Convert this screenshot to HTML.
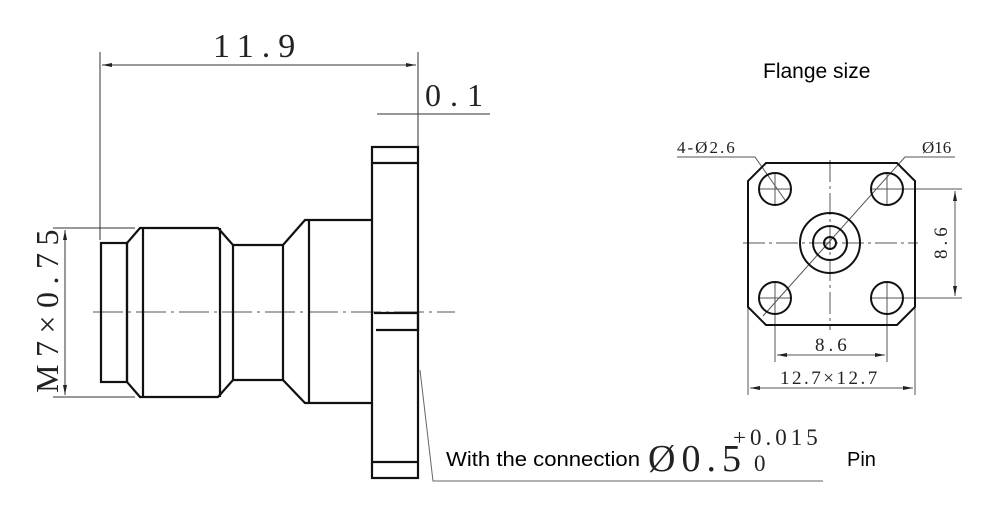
<!DOCTYPE html>
<html><head><meta charset="utf-8"><style>
html,body{margin:0;padding:0;background:#fff;width:1000px;height:506px;overflow:hidden}
svg{display:block}
.s{font-family:"Liberation Serif",serif;fill:#222}
.a{font-family:"Liberation Sans","DejaVu Sans",sans-serif;fill:#000}
</style></head><body>
<svg width="1000" height="506" viewBox="0 0 1000 506" xmlns="http://www.w3.org/2000/svg">
<defs>
<marker id="ar" markerWidth="10" markerHeight="6" refX="10" refY="3" orient="auto-start-reverse" markerUnits="userSpaceOnUse"><path d="M0,1 L10,3 L0,5z" fill="#222"/></marker>
</defs>
<g stroke="#333" stroke-width="1" fill="none">
<line x1="100" y1="52" x2="100" y2="240"/>
<line x1="418" y1="52" x2="418" y2="147"/>
<line x1="102" y1="65" x2="416" y2="65" marker-start="url(#ar)" marker-end="url(#ar)"/>
<line x1="377" y1="114" x2="490" y2="114"/>
<line x1="53" y1="228" x2="135" y2="228"/>
<line x1="53" y1="397" x2="135" y2="397"/>
<line x1="65" y1="230" x2="65" y2="395" marker-start="url(#ar)" marker-end="url(#ar)"/>
<line x1="93" y1="312" x2="455" y2="312" stroke-dasharray="30,5,3,5" stroke="#555"/>
<polyline points="420,370 433,481 823,481" stroke="#666"/>
</g>
<g stroke="#111" stroke-width="2.2" fill="none">
<rect x="101" y="243" width="26" height="139"/>
<path d="M127,243 L140,228 L218,228 L233,245 L233,380 L218,397 L140,397 L127,382 Z"/>
<line x1="143" y1="228" x2="143" y2="397"/>
<line x1="220" y1="228" x2="220" y2="397"/>
<path d="M233,245 L283,245 M233,380 L283,380"/>
<line x1="283" y1="245" x2="283" y2="380"/>
<path d="M283,245 L305,220 L372,220 M283,380 L305,403 L372,403"/>
<line x1="309" y1="220" x2="309" y2="403"/>
<rect x="372" y="147" width="46" height="331"/>
<line x1="372" y1="163" x2="418" y2="163"/>
<line x1="372" y1="462" x2="418" y2="462"/>
<path d="M374,313 L418,313 L418,330 L376,330"/>
</g>
<line x1="418" y1="100" x2="418" y2="125" stroke="#333"/>
<text class="s" x="213" y="57" font-size="34" letter-spacing="8">11.9</text>
<text class="s" x="425" y="106" font-size="32" letter-spacing="9">0.1</text>
<text class="s" font-size="32" letter-spacing="7.5" transform="translate(58,393) rotate(-90)">M7×0.75</text>
<text class="a" x="446" y="466" font-size="20" textLength="194" lengthAdjust="spacingAndGlyphs">With the connection</text>
<text class="s" x="648" y="471" font-size="38" fill="#444" letter-spacing="6">Ø0.5</text>
<text class="s" x="733" y="445" font-size="23" fill="#444" letter-spacing="4">+0.015</text>
<text class="s" x="754" y="471" font-size="23" fill="#444">0</text>
<text class="a" x="847" y="466" font-size="20">Pin</text>
<text class="a" x="763" y="78" font-size="21">Flange size</text>
<g stroke="#555" stroke-width="1" fill="none">
<line x1="743" y1="243" x2="918" y2="243" stroke-dasharray="22,4,3,4"/>
<line x1="830" y1="160" x2="830" y2="330" stroke-dasharray="22,4,3,4"/>
<line x1="760" y1="189" x2="790" y2="189"/><line x1="775" y1="174" x2="775" y2="204"/>
<line x1="872" y1="189" x2="902" y2="189"/><line x1="887" y1="174" x2="887" y2="204"/>
<line x1="760" y1="298" x2="790" y2="298"/><line x1="775" y1="283" x2="775" y2="313"/>
<line x1="872" y1="298" x2="902" y2="298"/><line x1="887" y1="283" x2="887" y2="313"/>
<polyline points="955,157 905,157 763,316"/>
<polyline points="677,157 755,157 785,200"/>
<line x1="887" y1="189" x2="962" y2="189"/>
<line x1="887" y1="298" x2="962" y2="298"/>
<line x1="955" y1="191" x2="955" y2="296" marker-start="url(#ar)" marker-end="url(#ar)"/>
<line x1="775" y1="298" x2="775" y2="362"/>
<line x1="887" y1="298" x2="887" y2="362"/>
<line x1="777" y1="355" x2="885" y2="355" marker-start="url(#ar)" marker-end="url(#ar)"/>
<line x1="748" y1="300" x2="748" y2="395"/>
<line x1="915" y1="300" x2="915" y2="395"/>
<line x1="750" y1="388" x2="913" y2="388" marker-start="url(#ar)" marker-end="url(#ar)"/>
</g>
<g stroke="#111" stroke-width="2" fill="none">
<path d="M766,163 L897,163 L915,181 L915,307 L897,325 L766,325 L748,307 L748,181 Z"/>
<circle cx="775" cy="189" r="16"/><circle cx="887" cy="189" r="16"/>
<circle cx="775" cy="298" r="16"/><circle cx="887" cy="298" r="16"/>
<circle cx="830" cy="243" r="30"/><circle cx="830" cy="243" r="17"/><circle cx="830" cy="243" r="6"/>
</g>
<text class="s" x="677" y="153" font-size="17" letter-spacing="2">4-Ø2.6</text>
<text class="s" x="922" y="153" font-size="17">Ø16</text>
<text class="s" font-size="19" letter-spacing="4" transform="translate(947,259) rotate(-90)">8.6</text>
<text class="s" x="815" y="351" font-size="19" letter-spacing="4">8.6</text>
<text class="s" x="780" y="384" font-size="19" letter-spacing="2.5">12.7×12.7</text>
</svg>
</body></html>
